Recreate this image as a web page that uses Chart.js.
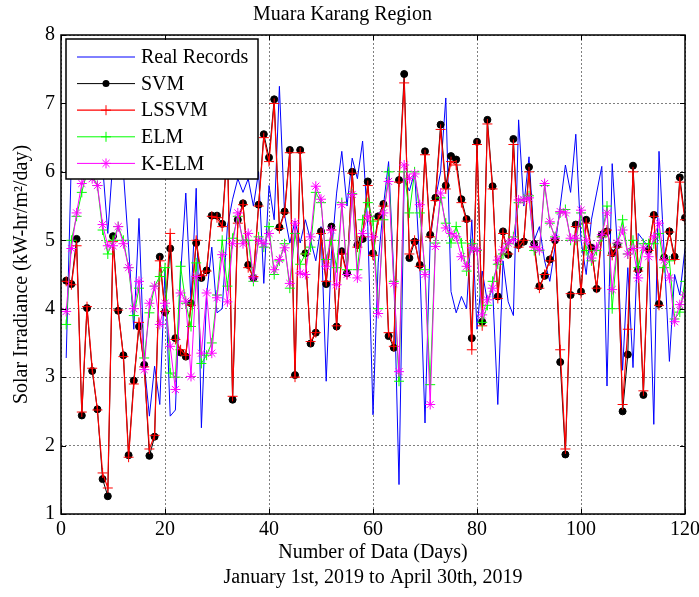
<!DOCTYPE html>
<html><head><meta charset="utf-8">
<script src="https://cdn.jsdelivr.net/npm/chart.js@4.4.1/dist/chart.umd.min.js"></script>
<style>html,body{margin:0;padding:0;background:#fff}canvas{display:block}</style>
</head><body>
<canvas id="c" width="699" height="597"></canvas>
<script>
// ---- data ----
const days = Array.from({length: 120}, (_, i) => i + 1);
const xTicks = [0, 20, 40, 60, 80, 100, 120];
const yTicks = [1, 2, 3, 4, 5, 6, 7, 8];

const realRecords = [3.28,6.2,6.6,6.0,6.3,6.0,6.8,6.1,5.1,6.2,6.4,6.0,4.9,3.7,5.32,3.2,2.43,3.16,2.6,4.57,
2.43,2.52,4.5,5.69,4.1,5.76,2.26,4.2,4.9,3.94,4.0,5.2,5.6,5.9,5.7,5.9,5.5,6.0,4.37,5.8,
5.3,7.25,5.37,4.96,5.28,4.96,5.3,5.0,4.7,5.2,2.94,4.8,5.69,6.3,5.5,6.2,5.9,6.45,5.2,2.45,
4.67,5.5,6.15,4.5,1.43,5.9,5.72,6.0,4.67,2.33,5.0,5.6,6.0,7.08,4.25,3.94,4.18,4.0,5.3,3.7,
4.55,4.1,4.3,2.6,4.7,4.1,3.9,6.76,5.5,6.22,5.0,5.2,4.7,4.4,4.9,5.5,6.1,5.7,6.55,5.0,
4.5,5.3,5.69,6.08,2.87,6.12,4.9,3.1,4.6,3.14,5.1,5.0,4.9,2.31,6.3,4.8,3.23,4.5,4.2,4.88];

const svm = [4.41,4.36,5.02,2.44,4.01,3.09,2.53,1.51,1.26,5.06,3.97,3.32,1.86,2.95,3.74,3.18,1.85,2.13,4.76,3.95,
4.88,3.57,3.36,3.30,4.08,4.96,4.45,4.56,5.36,5.36,5.24,6.4,2.67,5.3,5.54,4.64,4.45,5.52,6.55,6.21,
7.06,5.19,5.42,6.32,3.03,6.32,4.81,3.49,3.65,5.13,4.36,5.20,3.74,4.84,4.52,6.00,4.93,5.02,5.86,4.81,
5.35,5.53,3.60,3.43,5.88,7.43,4.74,4.98,4.64,6.30,5.08,5.62,6.69,5.80,6.23,6.18,5.60,5.31,3.57,6.44,
3.81,6.76,5.79,4.18,5.13,4.79,6.48,4.93,4.98,6.07,4.95,4.33,4.48,4.72,5.00,3.22,1.87,4.20,5.23,4.25,
5.30,4.89,4.29,5.08,5.13,4.81,4.93,2.50,3.33,6.09,4.57,2.74,4.86,5.37,4.07,4.75,5.13,4.76,5.92,5.33];

const lssvm = [4.40,4.35,4.92,2.49,4.03,3.13,2.52,1.60,1.38,4.98,3.98,3.30,1.83,2.90,3.80,3.15,1.95,2.15,4.70,3.96,
5.10,3.55,3.40,3.32,4.05,5.00,4.48,4.55,5.35,5.33,5.20,6.35,2.72,5.25,5.52,4.60,4.47,5.50,6.50,6.15,
7.00,5.17,5.40,6.28,3.00,6.28,4.80,3.52,3.65,5.10,4.40,5.15,3.75,4.80,4.50,5.98,4.90,5.05,5.80,4.78,
5.30,5.50,3.65,3.45,5.85,7.30,4.80,5.00,4.62,6.25,5.05,5.58,6.62,5.75,6.15,6.10,5.55,5.28,3.40,6.40,
3.75,6.70,5.75,4.15,5.10,4.80,6.40,4.90,5.00,6.00,4.90,4.30,4.50,4.70,5.00,3.40,1.95,4.22,5.20,4.22,
5.25,4.85,4.30,5.05,5.15,4.78,4.90,2.60,3.70,6.00,4.55,2.80,4.85,5.35,4.05,4.72,5.12,4.72,5.85,5.30];

const elm = [3.77,5.0,5.35,5.7,6.0,5.95,5.8,5.15,4.8,5.0,5.2,5.0,4.6,3.9,4.3,3.28,3.94,4.33,4.47,4.6,
3.06,3.0,4.62,4.08,3.74,4.67,3.2,3.32,3.5,4.2,5.0,4.33,5.03,5.35,5.0,5.0,4.4,5.05,4.9,5.2,
4.5,4.7,4.95,4.3,5.1,4.65,4.8,4.9,5.7,5.55,4.72,5.0,4.6,5.55,4.57,5.68,4.57,5.3,5.55,5.28,
4.0,5.3,6.0,4.4,2.94,6.0,5.4,6.0,5.4,4.57,2.89,4.96,5.62,5.25,4.96,5.2,4.96,4.55,4.95,4.85,
3.8,4.05,4.4,4.65,4.8,4.95,5.05,5.55,5.6,5.65,4.85,4.85,5.8,5.25,5.05,5.4,5.45,5.0,5.0,5.4,
4.85,4.7,4.85,5.05,5.5,4.0,4.95,5.3,4.8,5.0,4.6,4.95,4.95,4.95,5.1,4.6,4.7,3.85,3.95,4.4];

const kelm = [3.96,4.88,5.4,5.83,6.0,5.9,5.8,5.23,4.92,4.92,5.2,4.95,4.6,4.0,4.4,3.11,4.08,4.33,3.77,4.08,
3.45,2.82,4.23,4.11,3.01,4.47,3.35,4.23,3.35,4.16,4.79,4.1,4.95,5.4,4.95,5.1,4.45,5.0,4.95,5.1,
4.57,4.72,4.89,4.37,5.25,4.52,4.5,5.05,5.79,5.6,4.62,5.15,4.35,5.52,4.5,5.67,4.45,5.1,5.35,5.05,
3.93,5.4,5.86,4.37,3.08,6.1,5.9,5.97,5.52,4.5,2.6,4.91,5.69,5.18,5.1,5.05,4.76,4.62,4.89,4.86,
3.91,4.13,4.3,4.71,4.86,4.96,5.01,5.59,5.59,5.62,4.91,4.86,5.83,5.27,5.03,5.42,5.4,5.03,5.03,5.44,
5.0,4.74,4.9,5.08,5.4,4.28,4.96,5.15,4.8,4.88,4.45,4.89,4.76,5.05,5.25,4.71,4.45,3.81,4.06,4.2];

const seriesNames = ['Real Records', 'SVM', 'LSSVM', 'ELM', 'K-ELM'];

// ---- chart ----
const FONT = '"Liberation Serif", "Times New Roman", Times, serif';
Chart.defaults.font.family = FONT;
Chart.defaults.font.size = 20;
Chart.defaults.color = '#000';

const pts = arr => arr.map((v, i) => ({x: days[i], y: v}));

const styles = [
  {color: '#0000ff', width: 1, pointStyle: false, radius: 0},
  {color: '#000000', width: 1, pointStyle: 'circle', radius: 3.5, fill: '#000000'},
  {color: '#ff0000', width: 1.2, pointStyle: 'cross', radius: 5},
  {color: '#00ff00', width: 1, pointStyle: 'cross', radius: 5},
  {color: '#ff00ff', width: 1, pointStyle: 'star', radius: 5}
];
const values = [realRecords, svm, lssvm, elm, kelm];

const datasets = values.map((arr, k) => ({
  label: seriesNames[k],
  data: pts(arr),
  borderColor: styles[k].color,
  backgroundColor: styles[k].fill || styles[k].color,
  borderWidth: styles[k].width,
  pointStyle: styles[k].pointStyle,
  pointRadius: styles[k].radius,
  pointBorderWidth: 1,
  pointBorderColor: styles[k].color,
  pointBackgroundColor: styles[k].fill || styles[k].color,
  tension: 0,
  order: 5 - k
}));

function drawMarker(ctx, style, x, y, r, color) {
  ctx.save();
  ctx.strokeStyle = color; ctx.fillStyle = color; ctx.lineWidth = 1;
  ctx.beginPath();
  if (style === 'circle') {
    ctx.arc(x, y, r, 0, Math.PI * 2); ctx.fill();
  } else if (style === 'cross') {
    ctx.moveTo(x - r, y); ctx.lineTo(x + r, y);
    ctx.moveTo(x, y - r); ctx.lineTo(x, y + r); ctx.stroke();
  } else if (style === 'star') {
    const d = r * Math.SQRT1_2;
    ctx.moveTo(x - r, y); ctx.lineTo(x + r, y);
    ctx.moveTo(x, y - r); ctx.lineTo(x, y + r);
    ctx.moveTo(x - d, y - d); ctx.lineTo(x + d, y + d);
    ctx.moveTo(x - d, y + d); ctx.lineTo(x + d, y - d); ctx.stroke();
  }
  ctx.restore();
}

const legendPlugin = {
  id: 'boxLegend',
  afterDatasetsDraw(chart) {
    const ctx = chart.ctx;
    const a = chart.chartArea;
    const bx = a.left + 5, by = a.top + 4, bw = 192, bh = 140;
    ctx.save();
    ctx.fillStyle = '#fff';
    ctx.fillRect(bx, by, bw, bh);
    ctx.strokeStyle = '#000'; ctx.lineWidth = 1.5;
    ctx.strokeRect(bx, by, bw, bh);
    ctx.font = '20px ' + FONT;
    ctx.textBaseline = 'middle'; ctx.textAlign = 'left';
    seriesNames.forEach((name, k) => {
      const yy = by + 18 + k * 26.6;
      const st = styles[k];
      ctx.strokeStyle = st.color; ctx.lineWidth = st.width;
      ctx.beginPath(); ctx.moveTo(bx + 11, yy); ctx.lineTo(bx + 69, yy); ctx.stroke();
      if (st.pointStyle) drawMarker(ctx, st.pointStyle, bx + 40, yy, st.radius, st.color);
      ctx.fillStyle = '#000';
      ctx.fillText(name, bx + 75, yy + 1);
    });
    ctx.restore();
  }
};

const framePlugin = {
  id: 'frame',
  afterDraw(chart) {
    const {ctx, chartArea: a, scales: {x, y}} = chart;
    const tl = 5;
    ctx.save();
    ctx.strokeStyle = '#000'; ctx.lineWidth = 1;
    ctx.beginPath();
    xTicks.forEach(v => {
      const px = Math.round(x.getPixelForValue(v)) + 0.5;
      ctx.moveTo(px, a.bottom); ctx.lineTo(px, a.bottom - tl);
      ctx.moveTo(px, a.top); ctx.lineTo(px, a.top + tl);
    });
    yTicks.forEach(v => {
      const py = Math.round(y.getPixelForValue(v)) + 0.5;
      ctx.moveTo(a.left, py); ctx.lineTo(a.left + tl, py);
      ctx.moveTo(a.right, py); ctx.lineTo(a.right - tl, py);
    });
    ctx.stroke();
    ctx.lineWidth = 1.5;
    ctx.strokeRect(a.left, a.top, a.right - a.left, a.bottom - a.top);
    ctx.restore();
  }
};

new Chart(document.getElementById('c'), {
  type: 'line',
  data: {datasets},
  options: {
    responsive: false,
    animation: false,
    events: [],
    layout: {padding: {left: 0, right: 14, top: 0, bottom: 0}},
    plugins: {
      legend: {display: false},
      tooltip: {enabled: false},
      title: {
        display: true, text: 'Muara Karang Region', color: '#000',
        font: {size: 20, weight: 'normal', family: FONT},
        padding: {top: 3, bottom: 8}
      }
    },
    scales: {
      x: {
        type: 'linear', min: 0, max: 120,
        afterBuildTicks: s => { s.ticks = xTicks.map(v => ({value: v})); },
        afterFit: s => { s.height = 83; s.paddingLeft = 0; s.paddingRight = 0; },
        ticks: {padding: 4, font: {size: 20}, maxRotation: 0, autoSkip: false},
        grid: {color: 'rgba(0,0,0,0.5)', borderDash: [2, 2], drawTicks: false, lineWidth: 1},
        border: {display: false, dash: [2, 2]},
        title: {
          display: true,
          text: ['Number of Data (Days)', 'January 1st, 2019 to April 30th, 2019'],
          font: {size: 20, lineHeight: 1.25},
          padding: {top: 0, bottom: 7}
        }
      },
      y: {
        type: 'linear', min: 1, max: 8,
        afterBuildTicks: s => { s.ticks = yTicks.map(v => ({value: v})); },
        afterFit: s => { s.width = 61; s.paddingTop = 0; s.paddingBottom = 0; },
        ticks: {padding: 6, font: {size: 20}},
        grid: {color: 'rgba(0,0,0,0.5)', drawTicks: false, lineWidth: 1},
        border: {display: false, dash: [2, 2]},
        title: {
          display: true,
          text: 'Solar Irradiance (kW-hr/m\u00B2/day)',
          font: {size: 20, lineHeight: 1.2},
          padding: {top: 10, bottom: 0}
        }
      }
    }
  },
  plugins: [legendPlugin, framePlugin]
});
</script>
</body></html>
